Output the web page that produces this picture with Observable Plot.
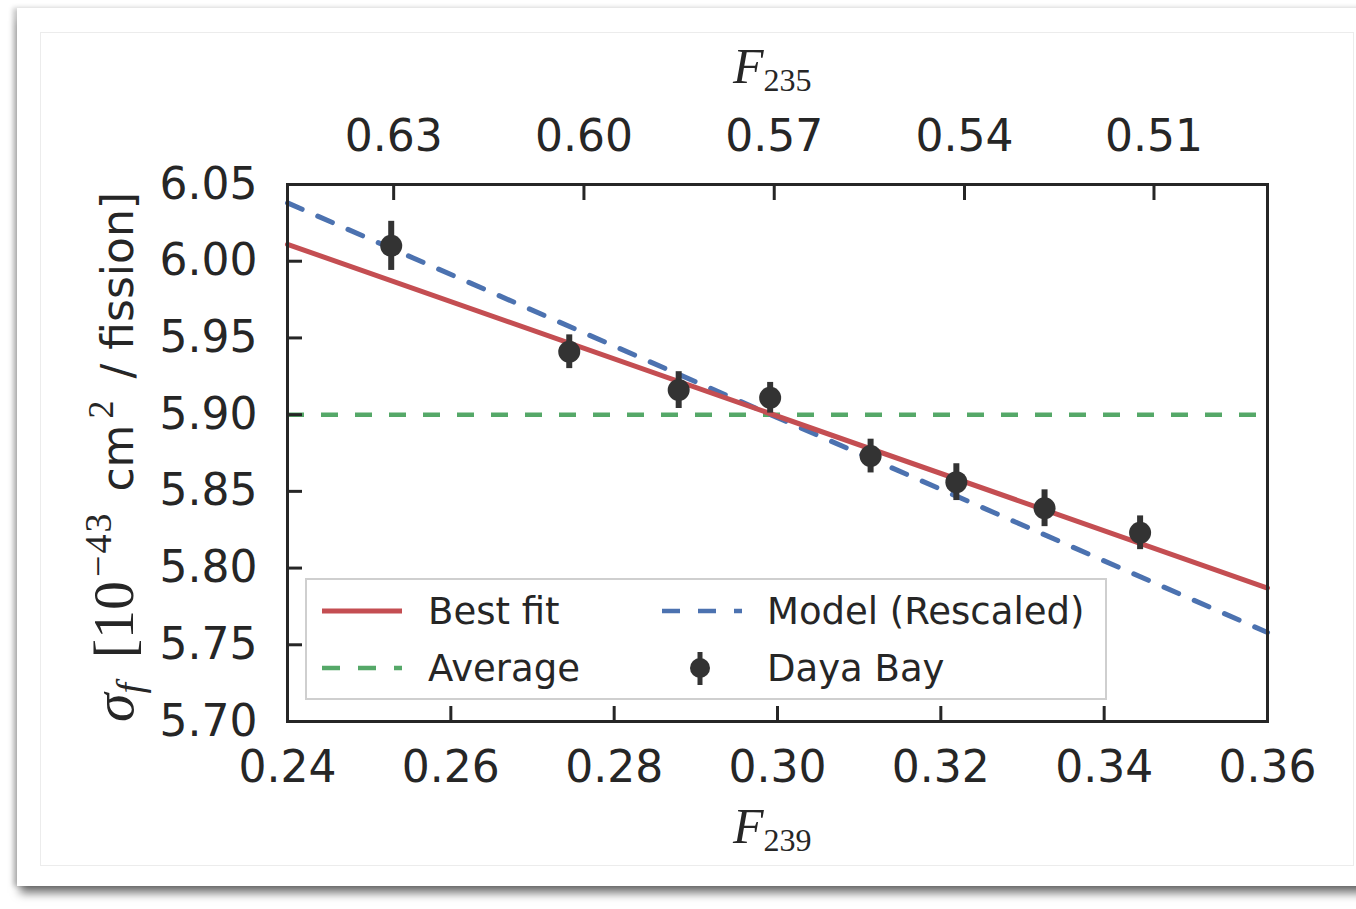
<!DOCTYPE html>
<html><head><meta charset="utf-8">
<script src="https://cdn.jsdelivr.net/npm/d3@7"></script>
<script src="https://cdn.jsdelivr.net/npm/@observablehq/plot@0.6"></script>
<style>
body{margin:0;width:1356px;height:909px;background:#fff;position:relative;overflow:hidden;font-family:"DejaVu Sans",sans-serif;color:#262626}
#card{position:absolute;left:17px;top:8px;width:1400px;height:878px;background:#fff;box-shadow:0 10px 9px -3px rgba(0,0,0,0.55),-4px 0 5px rgba(0,0,0,0.22);}
#inner{position:absolute;left:40px;top:32px;width:1312px;height:832px;border:1px solid #ececec;}
#chart{position:absolute;left:0;top:0}
#labels{position:absolute;left:0;top:0}
#legend{position:absolute;left:305px;top:578px;width:798px;height:118px;border:2px solid #cfcfcf;background:rgba(255,255,255,0.85);font-size:37px;color:#262626}
#legend .t{position:absolute;line-height:1;white-space:nowrap}
#legend svg{position:absolute;left:0;top:0}
</style></head>
<body>
<div id="card"></div>
<div id="inner"></div>
<div id="chart"></div>
<svg id="labels" width="1356" height="909" fill="#262626">
  <text x="733" y="83" font-family="Liberation Serif" font-size="50"><tspan font-style="italic">F</tspan><tspan font-size="32" dy="8">235</tspan></text>
  <text x="733" y="843" font-family="Liberation Serif" font-size="50"><tspan font-style="italic">F</tspan><tspan font-size="32" dy="8">239</tspan></text>
  <text transform="translate(133,457) rotate(-90)" text-anchor="middle" font-size="44" font-family="DejaVu Sans"><tspan font-family="Liberation Serif" font-style="italic" font-size="58">σ</tspan><tspan font-family="Liberation Serif" font-style="italic" font-size="38" dy="10">f</tspan><tspan font-family="Liberation Serif" font-size="58" dy="-10" dx="10"> [10</tspan><tspan font-family="Liberation Serif" font-size="38" dy="-22" dx="4" letter-spacing="2">−43</tspan><tspan dy="22" dx="6"> cm</tspan><tspan font-family="Liberation Serif" font-size="36" dy="-20" dx="6">2</tspan><tspan dy="20" dx="8"> / fission]</tspan></text>
</svg>
<div id="legend">
  <svg width="798" height="118">
    <line x1="15" x2="95" y1="31" y2="31" stroke="#C44E52" stroke-width="5"/>
    <line x1="15" x2="95" y1="88" y2="88" stroke="#55A868" stroke-width="4.5" stroke-dasharray="18,18"/>
    <line x1="355" x2="435" y1="31" y2="31" stroke="#4C72B0" stroke-width="4.5" stroke-dasharray="18,18"/>
    <line x1="393" x2="393" y1="72" y2="105" stroke="#333" stroke-width="5"/>
    <circle cx="393" cy="88" r="10" fill="#333"/>
  </svg>
  <div class="t" style="left:121px;top:13px">Best fit</div>
  <div class="t" style="left:121px;top:70px">Average</div>
  <div class="t" style="left:460px;top:13px">Model (Rescaled)</div>
  <div class="t" style="left:460px;top:70px">Daya Bay</div>
</div>
<script>
// Daya Bay measurements (F239, sigma_f, error)
const f239 = [0.2527, 0.2745, 0.2879, 0.2991, 0.3114, 0.3219, 0.3327, 0.3444];
const sigma = [6.010, 5.941, 5.916, 5.911, 5.873, 5.856, 5.839, 5.823];
const sigmaErr = [0.016, 0.011, 0.012, 0.010, 0.011, 0.012, 0.012, 0.011];
// lines (endpoints at the axis limits)
const lineX = [0.24, 0.36];
const bestFitY = [6.011, 5.787];
const modelY = [6.038, 5.758];
const averageY = 5.90;
// ticks
const xTicks = [0.24, 0.26, 0.28, 0.30, 0.32, 0.34, 0.36];
const yTicks = [5.70, 5.75, 5.80, 5.85, 5.90, 5.95, 6.00, 6.05];
const topTickLabels = ["0.63", "0.60", "0.57", "0.54", "0.51"];
const topTickPos = [0.2530, 0.2763, 0.2996, 0.3229, 0.3461];

const points = f239.map((x, i) => ({x, y: sigma[i], e: sigmaErr[i]}));
const fitRows = lineX.map((x, i) => ({x, y: bestFitY[i]}));
const modelRows = lineX.map((x, i) => ({x, y: modelY[i]}));
const topMap = new Map(topTickPos.map((p, i) => [p, topTickLabels[i]]));
const fmt = d3.format(".2f");

const chart = Plot.plot({
  width: 1356, height: 909,
  marginLeft: 287, marginRight: 89, marginTop: 184, marginBottom: 188,
  x: {domain: [0.24, 0.36]},
  y: {domain: [5.70, 6.05]},
  style: {background: "transparent", fontFamily: "DejaVu Sans", fontSize: "44px", color: "#262626", overflow: "visible"},
  marks: [
    Plot.ruleY([averageY], {stroke: "#55A868", strokeWidth: 4.5, strokeDasharray: "17,17"}),
    Plot.line(modelRows, {x: "x", y: "y", stroke: "#4C72B0", strokeWidth: 5, strokeDasharray: "16,17"}),
    Plot.line(fitRows, {x: "x", y: "y", stroke: "#C44E52", strokeWidth: 5}),
    Plot.ruleX(points, {x: "x", y1: d => d.y - d.e, y2: d => d.y + d.e, stroke: "#333", strokeWidth: 6}),
    Plot.dot(points, {x: "x", y: "y", r: 11, fill: "#333"}),
    Plot.frame({stroke: "#262626", strokeWidth: 3}),
    Plot.axisX(xTicks, {anchor: "bottom", tickSize: 0, tickPadding: 29, tickFormat: fmt, label: null}),
    Plot.axisX(xTicks, {anchor: "bottom", tickSize: -15, tickFormat: () => "", label: null, strokeWidth: 3}),
    Plot.axisY(yTicks, {anchor: "left", tickSize: 0, tickPadding: 30, tickFormat: fmt, label: null}),
    Plot.axisY(yTicks, {anchor: "left", tickSize: -15, tickFormat: () => "", label: null, strokeWidth: 3}),
    Plot.axisX(topTickPos, {anchor: "top", tickSize: 0, tickPadding: 34, tickFormat: d => topMap.get(d), label: null}),
    Plot.axisX(topTickPos, {anchor: "top", tickSize: -15, tickFormat: () => "", label: null, strokeWidth: 3})
  ]
});
document.getElementById("chart").appendChild(chart);
</script>
</body></html>
